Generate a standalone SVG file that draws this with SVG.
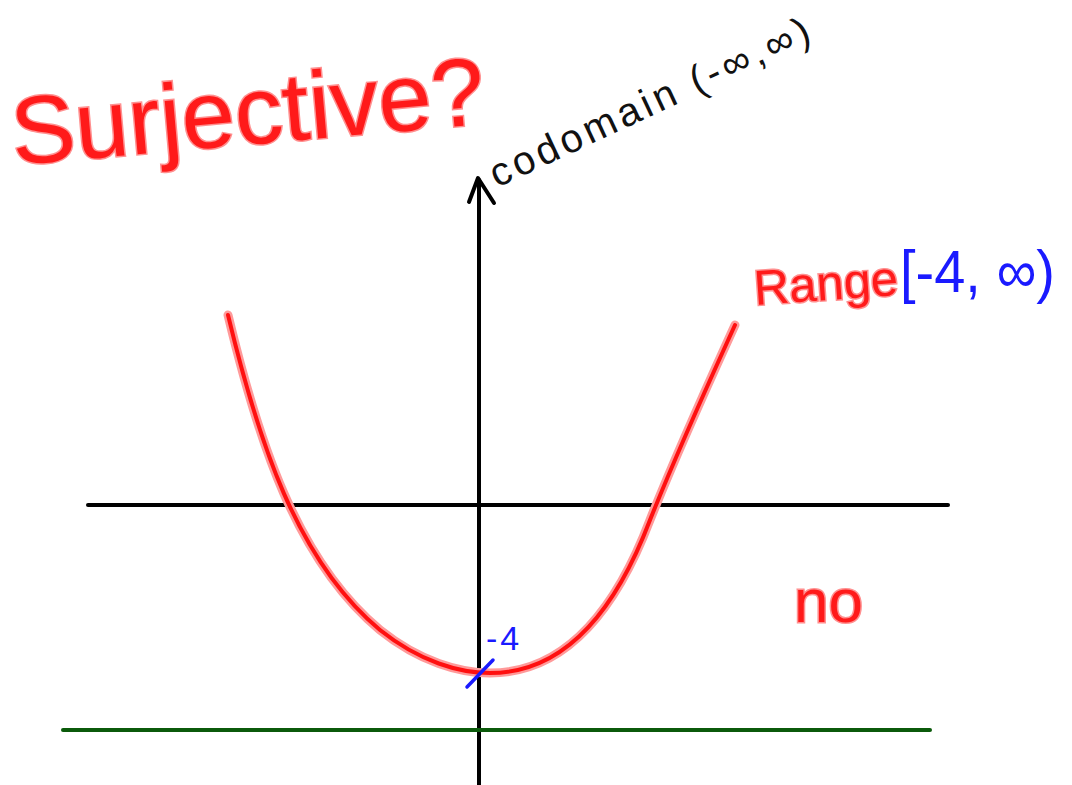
<svg xmlns="http://www.w3.org/2000/svg" width="1072" height="785" viewBox="0 0 1072 785">
<style>
.red{fill:#ff1a1a;stroke:#ff9090;stroke-width:3;paint-order:stroke;font-family:"Liberation Sans",sans-serif}
.blue{fill:#1a1aff;font-family:"Liberation Sans",sans-serif}
.blk{fill:#111;font-family:"Liberation Sans",sans-serif}
.axis{stroke:#000;stroke-width:4;fill:none;stroke-linecap:round}
</style>
<rect width="1072" height="785" fill="#fff"/>
<g id="axes">
<line class="axis" x1="479" y1="180" x2="479" y2="785"/>
<polyline class="axis" points="469,202 478,178 494,203" stroke-linejoin="round"/>
<line class="axis" x1="88" y1="505" x2="948" y2="505"/>
<line x1="63" y1="730" x2="930" y2="730" stroke="#0b5a0b" stroke-width="4" stroke-linecap="round"/>
</g>
<g id="curve">
<path d="M228,315 C258,440 296,560 380,630 C420,662 460,673 490,673 C560,673 612,620 650,520 C680,445 710,380 735,325" fill="none" stroke="#ff9a9a" stroke-width="9" stroke-linecap="round"/>
<path d="M228,315 C258,440 296,560 380,630 C420,662 460,673 490,673 C560,673 612,620 650,520 C680,445 710,380 735,325" fill="none" stroke="#ff1010" stroke-width="4" stroke-linecap="round"/>
<line x1="467" y1="687" x2="493" y2="660" stroke="#1a1aff" stroke-width="3.5" stroke-linecap="round"/>
</g>
<g id="title"><text class="red" x="14" y="165" font-size="96" transform="rotate(-5 14 165)">Surjective?</text></g>
<g id="codomain"><text class="blk" x="497" y="188" font-size="40" letter-spacing="4" transform="rotate(-25 497 188)">codomain (-∞,∞)</text></g>
<g id="range"><text class="red" x="755" y="305" font-size="49" transform="rotate(-4 755 305)">Range</text><text class="blue" x="900" y="292" font-size="60" textLength="155" lengthAdjust="spacingAndGlyphs">[-4, ∞)</text></g>
<g id="minus4"><text class="blue" x="486" y="650" font-size="34" letter-spacing="3">-4</text></g>
<g id="no"><text class="red" x="794" y="622" font-size="62">no</text></g>
</svg>
